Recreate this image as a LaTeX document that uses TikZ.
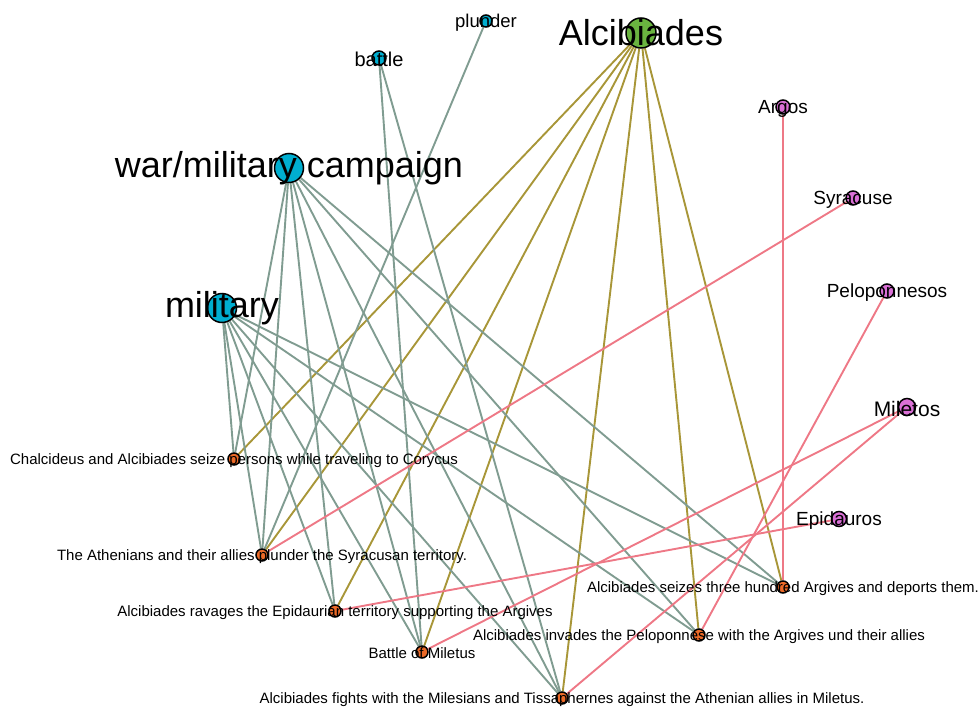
\documentclass[tikz,border=0pt]{standalone}
\usepackage{fontspec}
\setmainfont{Liberation Sans}
\usetikzlibrary{backgrounds}

\definecolor{topicblue}{RGB}{0,174,208}
\definecolor{persongreen}{RGB}{106,180,64}
\definecolor{placeviolet}{RGB}{218,112,214}
\definecolor{eventorange}{RGB}{236,106,40}
\definecolor{linkgrey}{RGB}{128,156,145}
\definecolor{linkolive}{RGB}{168,150,56}
\definecolor{linkpink}{RGB}{238,120,134}

\begin{document}
\begin{tikzpicture}[x=1pt,y=1pt,
    vertex/.style={circle,draw=black,line width=1.5pt,inner sep=0pt},
    topic/.style={vertex,fill=topicblue},
    person/.style={vertex,fill=persongreen},
    place/.style={vertex,fill=placeviolet,minimum size=14pt},
    event/.style={vertex,fill=eventorange,minimum size=12pt},
    biglabel/.style={inner sep=0pt,font=\fontsize{36}{40}\selectfont},
    midlabel/.style={inner sep=0pt,yshift=-1.5pt,font=\fontsize{19}{22}\selectfont},
    eventlabel/.style={inner sep=0pt,yshift=-1.5pt,font=\fontsize{15}{17}\selectfont},
    topicedge/.style={draw=linkgrey,line width=1.9pt},
    personedge/.style={draw=linkolive,line width=1.9pt},
    placeedge/.style={draw=linkpink,line width=1.9pt}]
  \useasboundingbox (0,0) rectangle (979,-709);

  % topics and person
  \node[person,minimum size=30pt] (alc) at (641,-33) {};
  \node[biglabel] (alc-t) at (alc) {Alcibiades};
  \node[topic,minimum size=29pt] (war) at (289,-168) {};
  \node[biglabel] (war-t) at (war) {war/military campaign};
  \node[topic,minimum size=29pt] (mil) at (222,-308) {};
  \node[biglabel] (mil-t) at (mil) {military};
  \node[topic,minimum size=14pt] (battle) at (379,-58) {};
  \node[midlabel,font=\fontsize{20}{22}\selectfont] (battle-t) at (battle) {battle};
  \node[topic,minimum size=12pt] (plunder) at (486,-21) {};
  \node[midlabel,font=\fontsize{18.5}{21}\selectfont] (plunder-t) at (plunder) {plunder};

  % places
  \node[place] (argos) at (783,-107) {};
  \node[midlabel] (argos-t) at (argos) {Argos};
  \node[place] (syr) at (853,-198) {};
  \node[midlabel] (syr-t) at (syr) {Syracuse};
  \node[place] (pelop) at (887,-291) {};
  \node[midlabel] (pelop-t) at (pelop) {Peloponnesos};
  \node[place,minimum size=17pt] (miletos) at (907,-407) {};
  \node[midlabel,font=\fontsize{21}{24}\selectfont] (miletos-t) at (miletos) {Miletos};
  \node[place,minimum size=15pt] (epid) at (839,-519) {};
  \node[midlabel] (epid-t) at (epid) {Epidauros};

  % events
  \node[event] (seize) at (234,-459) {};
  \node[eventlabel] (seize-t) at (seize) {Chalcideus and Alcibiades seize persons while traveling to Corycus};
  \node[event] (plunderSyr) at (262,-555) {};
  \node[eventlabel] (plunderSyr-t) at (plunderSyr) {The Athenians and their allies plunder the Syracusan territory.};
  \node[event] (ravage) at (335,-611) {};
  \node[eventlabel] (ravage-t) at (ravage) {Alcibiades ravages the Epidaurian territory supporting the Argives};
  \node[event] (battleMil) at (422,-652) {};
  \node[eventlabel] (battleMil-t) at (battleMil) {Battle of Miletus};
  \node[event] (fights) at (562,-698) {};
  \node[eventlabel] (fights-t) at (fights) {Alcibiades fights with the Milesians and Tissaphernes against the Athenian allies in Miletus.};
  \node[event] (invades) at (699,-635) {};
  \node[eventlabel] (invades-t) at (invades) {Alcibiades invades the Peloponnese with the Argives und their allies};
  \node[event] (deports) at (783,-587) {};
  \node[eventlabel] (deports-t) at (deports) {Alcibiades seizes three hundred Argives and deports them.};

  % links
  \begin{scope}[on background layer]
    \foreach \ev in {seize,plunderSyr,ravage,battleMil,fights,invades,deports}{
      \draw[topicedge] (war) -- (\ev);
      \draw[topicedge] (mil) -- (\ev);
      \draw[personedge] (alc) -- (\ev);
    }
    \draw[topicedge] (battle) -- (battleMil);
    \draw[topicedge] (battle) -- (fights);
    \draw[topicedge] (plunder) -- (plunderSyr);
    \draw[placeedge] (argos) -- (deports);
    \draw[placeedge] (syr) -- (plunderSyr);
    \draw[placeedge] (pelop) -- (invades);
    \draw[placeedge] (miletos) -- (battleMil);
    \draw[placeedge] (miletos) -- (fights);
    \draw[placeedge] (epid) -- (ravage);
  \end{scope}
\end{tikzpicture}
\end{document}
